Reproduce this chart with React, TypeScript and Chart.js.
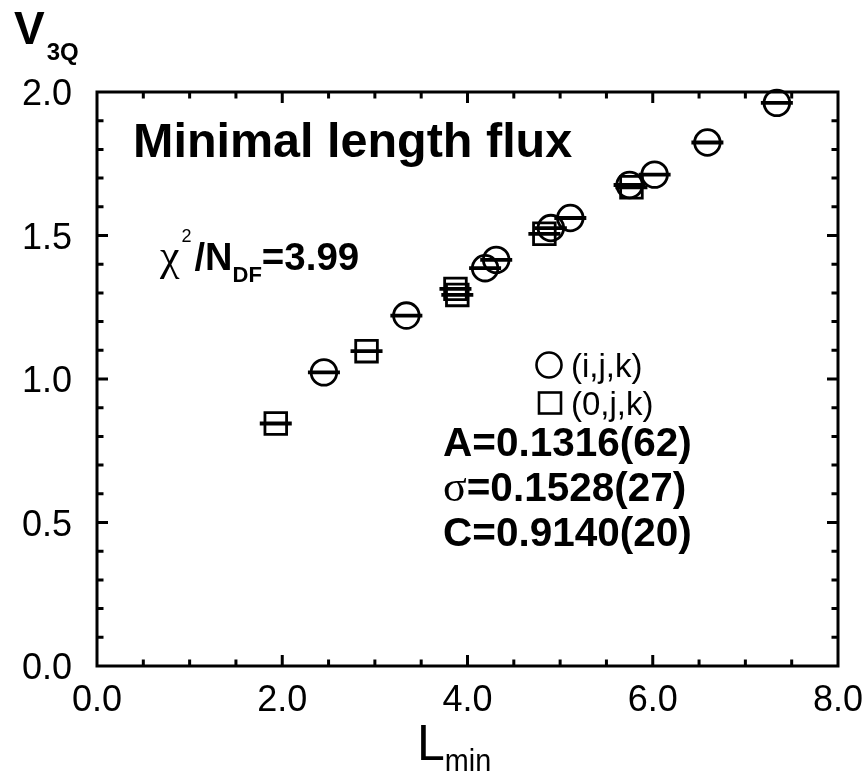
import React, { useEffect, useRef } from "react";
import { Chart, registerables } from "chart.js";

Chart.register(...registerables);

// ---- data ----
const circleL = [2.45, 3.34, 4.19, 4.31, 4.9, 5.11, 5.75, 6.02, 6.59, 7.34];
const circleV = [1.023, 1.221, 1.386, 1.415, 1.526, 1.561, 1.676, 1.712, 1.824, 1.962];

const squareL = [1.93, 2.91, 3.87, 3.89, 4.83, 5.77];
const squareV = [0.845, 1.097, 1.314, 1.293, 1.506, 1.668];

const xTickValues = [0, 2, 4, 6, 8];
const xTickLabels = ["0.0", "2.0", "4.0", "6.0", "8.0"];
const yTickValues = [0, 0.5, 1, 1.5, 2];
const yTickLabels = ["0.0", "0.5", "1.0", "1.5", "2.0"];
const xMinorStep = 0.5;
const yMinorStep = 0.1;

const legendLabels = ["(i,j,k)", "(0,j,k)"];
const fitParams = [
  { sym: "A", val: "=0.1316(62)" },
  { sym: "σ", val: "=0.1528(27)" },
  { sym: "C", val: "=0.9140(20)" },
];
const chiValue = "=3.99";
const titleText = "Minimal length flux";

const SANS = "'Liberation Sans', Arial, sans-serif";
const SERIF = "'Liberation Serif', 'Times New Roman', serif";

type Part = { t: string; font: string; dy?: number; sx?: number; dx?: number };

function drawParts(ctx: CanvasRenderingContext2D, x: number, y: number, parts: Part[]) {
  let cx = x;
  for (const p of parts) {
    ctx.font = p.font;
    const sx = p.sx ?? 1;
    cx += p.dx ?? 0;
    ctx.save();
    ctx.translate(cx, y + (p.dy ?? 0));
    ctx.scale(sx, 1);
    ctx.fillText(p.t, 0, 0);
    ctx.restore();
    cx += ctx.measureText(p.t).width * sx;
  }
}

const decorPlugin = {
  id: "decor",
  beforeDatasetsDraw(chart: any) {
    const { ctx, chartArea: a, scales } = chart;
    const xs = scales.x;
    const ys = scales.y;
    ctx.save();
    ctx.strokeStyle = "#000";
    ctx.lineWidth = 3;
    ctx.strokeRect(a.left, a.top, a.right - a.left, a.bottom - a.top);

    const isMajor = (v: number, vals: number[]) => vals.some((m) => Math.abs(m - v) < 1e-6);
    ctx.lineWidth = 3;
    ctx.beginPath();
    const nx = Math.round((xs.max - xs.min) / xMinorStep);
    for (let i = 1; i < nx; i++) {
      const v = xs.min + i * xMinorStep;
      const px = xs.getPixelForValue(v);
      const len = isMajor(v, xTickValues) ? 11 : 6.5;
      ctx.moveTo(px, a.bottom);
      ctx.lineTo(px, a.bottom - len);
      ctx.moveTo(px, a.top);
      ctx.lineTo(px, a.top + len);
    }
    const ny = Math.round((ys.max - ys.min) / yMinorStep);
    for (let i = 1; i < ny; i++) {
      const v = ys.min + i * yMinorStep;
      const py = ys.getPixelForValue(v);
      const len = isMajor(v, yTickValues) ? 11 : 6.5;
      ctx.moveTo(a.left, py);
      ctx.lineTo(a.left + len, py);
      ctx.moveTo(a.right, py);
      ctx.lineTo(a.right - len, py);
    }
    ctx.stroke();

    // tick labels
    ctx.fillStyle = "#000";
    ctx.font = `36px ${SANS}`;
    ctx.textAlign = "right";
    ctx.textBaseline = "alphabetic";
    yTickValues.forEach((v, i) => {
      ctx.fillText(yTickLabels[i], a.left - 25, ys.getPixelForValue(v) + 13);
    });
    ctx.textAlign = "center";
    xTickValues.forEach((v, i) => {
      ctx.fillText(xTickLabels[i], xs.getPixelForValue(v), a.bottom + 45);
    });
    ctx.restore();
  },
  afterDraw(chart: any) {
    const { ctx } = chart;
    ctx.save();
    ctx.fillStyle = "#000";
    ctx.strokeStyle = "#000";
    ctx.textAlign = "left";
    ctx.textBaseline = "alphabetic";

    // axis titles
    drawParts(ctx, 14, 44, [
      { t: "V", font: `bold 46px ${SANS}` },
      { t: "3Q", font: `bold 24px ${SANS}`, dy: 16, dx: 2 },
    ]);
    drawParts(ctx, 417, 760, [
      { t: "L", font: `50px ${SANS}` },
      { t: "min", font: `32px ${SANS}`, dy: 11, sx: 0.9 },
    ]);

    // title
    drawParts(ctx, 133, 157, [{ t: titleText, font: `bold 48.5px ${SANS}` }]);

    // chi^2 / N_DF
    drawParts(ctx, 160, 270, [
      { t: "χ", font: `44px ${SERIF}` },
      { t: "2", font: `18px ${SANS}`, dy: -28, dx: 2 },
      { t: "/N", font: `bold 38px ${SANS}`, dx: 3 },
      { t: "DF", font: `bold 22px ${SANS}`, dy: 12 },
      { t: chiValue, font: `bold 38.5px ${SANS}` },
    ]);

    // legend
    ctx.lineWidth = 2.6;
    ctx.beginPath();
    ctx.arc(549, 365, 12.5, 0, Math.PI * 2);
    ctx.stroke();
    ctx.strokeRect(539, 392.5, 22, 21);
    ctx.font = `33px ${SANS}`;
    ctx.fillText(legendLabels[0], 571, 377);
    ctx.fillText(legendLabels[1], 571, 415);

    // fit parameters
    const baselines = [456, 501, 546];
    fitParams.forEach((p, i) => {
      const symPart: Part =
        p.sym === "σ"
          ? { t: p.sym, font: `44px ${SERIF}` }
          : { t: p.sym, font: `bold 40.5px ${SANS}` };
      drawParts(ctx, 443, baselines[i], [symPart, { t: p.val, font: `bold 40.5px ${SANS}` }]);
    });
    ctx.restore();
  },
};

export default function App() {
  const ref = useRef<HTMLCanvasElement | null>(null);
  useEffect(() => {
    if (!ref.current) return;
    const circles = circleL.map((l, i) => ({ x: l, y: circleV[i] }));
    const squares = squareL.map((l, i) => ({ x: l, y: squareV[i] }));
    const bars = [...circles, ...squares];
    const chart = new Chart(ref.current, {
      type: "scatter",
      data: {
        datasets: [
          {
            label: legendLabels[0],
            data: circles,
            pointStyle: "circle",
            pointRadius: 12.8,
            borderWidth: 2.8,
            borderColor: "#000",
            backgroundColor: "rgba(0,0,0,0)",
            clip: false as any,
          },
          {
            label: legendLabels[1],
            data: squares,
            pointStyle: "rect",
            pointRadius: 15.3,
            borderWidth: 2.8,
            borderColor: "#000",
            backgroundColor: "rgba(0,0,0,0)",
            clip: false as any,
          },
          {
            label: "fit",
            data: bars,
            pointStyle: "line",
            pointRadius: 16,
            borderWidth: 3.8,
            borderColor: "#000",
            backgroundColor: "#000",
            clip: false as any,
          },
        ],
      },
      options: {
        animation: false,
        responsive: false,
        events: [],
        layout: { padding: { left: 97, right: 28, top: 92, bottom: 112 } },
        scales: {
          x: { type: "linear", min: 0, max: 8, display: false },
          y: { type: "linear", min: 0, max: 2, display: false },
        },
        plugins: { legend: { display: false }, tooltip: { enabled: false } },
      },
      plugins: [decorPlugin],
    });
    return () => chart.destroy();
  }, []);
  return (
    <div style={{ position: "absolute", left: 0, top: 0, width: 866, height: 778, background: "#fff" }}>
      <canvas ref={ref} width={866} height={778} style={{ width: 866, height: 778, display: "block" }} />
    </div>
  );
}
